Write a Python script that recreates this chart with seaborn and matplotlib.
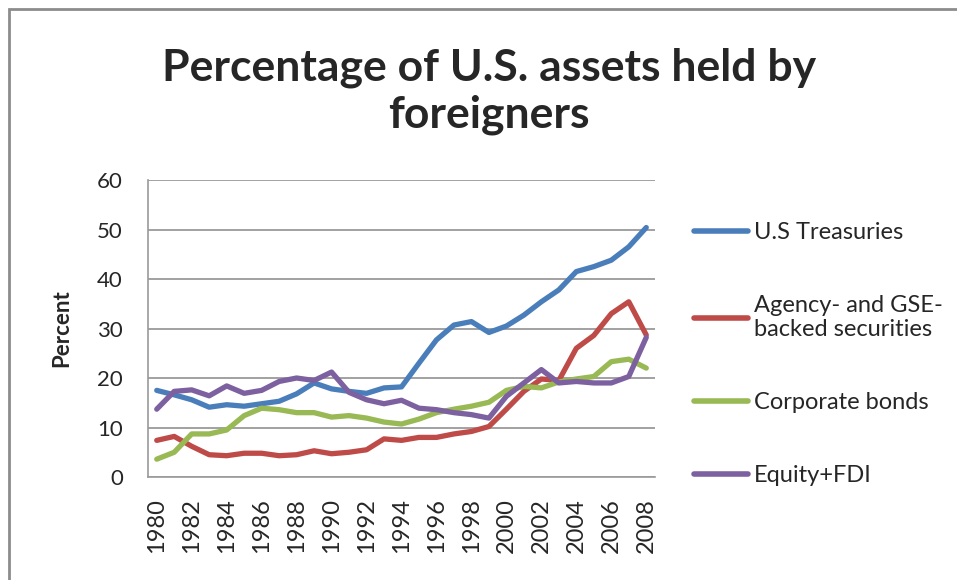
import numpy as np
import pandas as pd
import matplotlib
matplotlib.use('Agg')
import matplotlib.pyplot as plt
import seaborn as sns
from matplotlib.patches import Rectangle

# values (percent)
years = list(range(1980, 2009))
treasuries = [17.5, 16.6, 15.6, 14.1, 14.6, 14.3, 14.8, 15.3, 16.8, 19.0,
              17.8, 17.3, 16.9, 18.0, 18.2, 23.0, 27.7, 30.7, 31.4, 29.2,
              30.5, 32.7, 35.4, 37.8, 41.5, 42.5, 43.8, 46.5, 50.4]
agency = [7.4, 8.2, 6.2, 4.5, 4.3, 4.8, 4.8, 4.3, 4.5, 5.3,
          4.7, 5.0, 5.5, 7.7, 7.4, 8.0, 8.0, 8.7, 9.2, 10.2,
          13.7, 17.3, 19.8, 19.5, 26.0, 28.6, 33.0, 35.4, 28.7]
corporate = [3.6, 5.0, 8.7, 8.7, 9.5, 12.4, 13.9, 13.6, 13.0, 13.0,
             12.1, 12.4, 11.9, 11.1, 10.7, 11.7, 13.0, 13.7, 14.3, 15.1,
             17.5, 18.3, 18.0, 19.2, 19.8, 20.3, 23.3, 23.8, 22.0]
equity = [13.7, 17.3, 17.6, 16.4, 18.4, 16.9, 17.5, 19.3, 20.0, 19.5,
          21.2, 17.1, 15.6, 14.8, 15.5, 13.9, 13.6, 13.0, 12.6, 11.9,
          16.3, 19.0, 21.7, 19.0, 19.3, 19.0, 19.0, 20.3, 28.2]
series_names = ["U.S Treasuries", "Agency- and GSE-\nbacked securities",
                "Corporate bonds", "Equity+FDI"]
colors = ["#4A7EBB", "#BE4B48", "#98B954", "#7D60A0"]

df = pd.DataFrame({
    "Year": years * 4,
    "Percent": treasuries + agency + corporate + equity,
    "Series": np.repeat(series_names, len(years)),
})

sns.set_style("white")
plt.rcParams['font.family'] = ['Lato', 'DejaVu Sans']

fig = plt.figure(figsize=(9.57, 5.8), dpi=100)
ax = fig.add_axes([148 / 957, 1 - 477 / 580, 507 / 957, 297 / 580])

sns.lineplot(data=df, x="Year", y="Percent", hue="Series", hue_order=series_names,
             palette=colors, linewidth=3.8, ax=ax, legend=True)

ax.set_xlim(1979.5, 2008.5)
ax.set_ylim(0, 60)
ax.set_yticks(range(0, 61, 10))
ax.set_xticks(years[::2])
ax.set_xticklabels([str(y) for y in years[::2]], rotation=90, fontsize=17)
ax.tick_params(axis='y', labelsize=16, pad=18, length=0)
ax.tick_params(axis='x', pad=15, length=0)
ax.grid(axis='y', color='#9a9a9a', linewidth=1.3)
for s in ['top', 'right']:
    ax.spines[s].set_visible(False)
for s in ['left', 'bottom']:
    ax.spines[s].set_color('#9a9a9a')
    ax.spines[s].set_linewidth(1.2)
ax.set_xlabel("")
ax.set_ylabel("Percent", fontsize=16, fontweight='bold', labelpad=18)

leg = ax.legend(loc='upper left', bbox_to_anchor=(1.035, 0.93), frameon=False,
                fontsize=17, handlelength=2.3, handletextpad=0.25, labelspacing=2.2)
for line in leg.get_lines():
    line.set_linewidth(4)

fig.text(0.511, 0.842, "Percentage of U.S. assets held by\nforeigners",
         ha='center', va='center', fontsize=32, fontweight='bold',
         linespacing=1.2)

fig.patches.append(Rectangle((9 / 957, -0.1), 1.2, 1.1 - 9 / 580,
                             transform=fig.transFigure, fill=False,
                             edgecolor='#8c8c8c', linewidth=2))

fig.savefig("out.png", dpi=100)
